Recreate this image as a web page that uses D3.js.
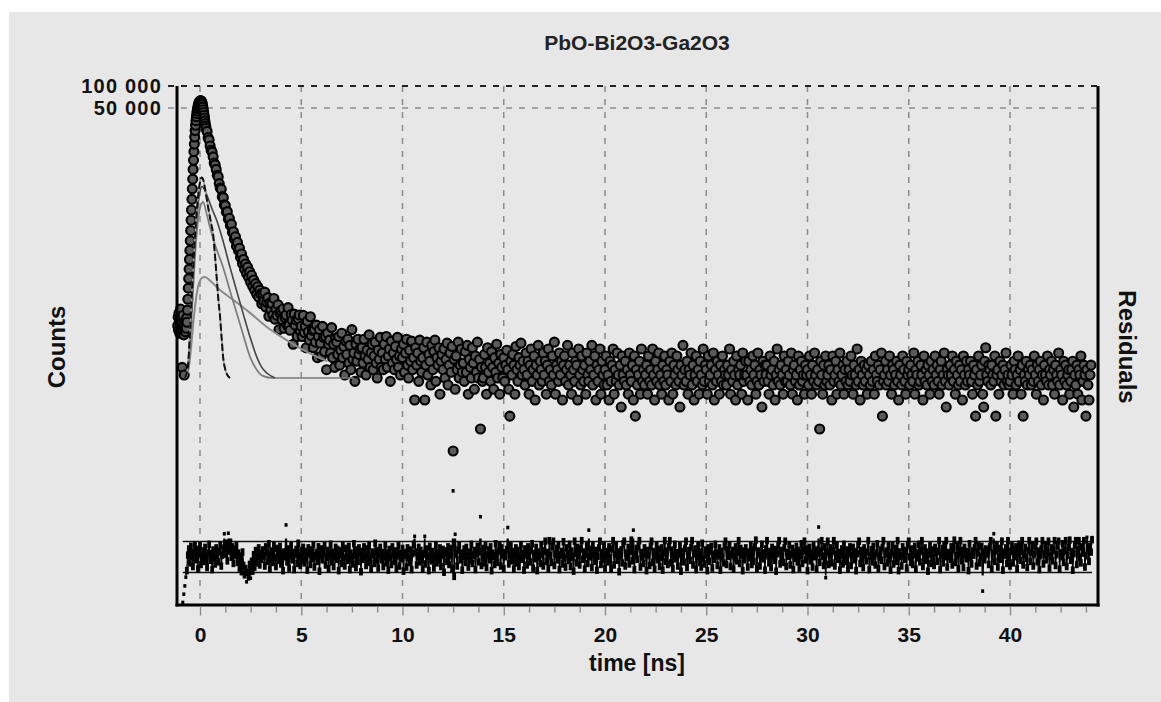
<!DOCTYPE html>
<html>
<head>
<meta charset="utf-8">
<script src="https://cdn.jsdelivr.net/npm/d3@7"></script>
<style>
  body { margin: 0; background: #fff; }
  svg text { font-family: "Liberation Sans", Arial, sans-serif; }
</style>
</head>
<body>
<svg width="1161" height="702"></svg>
<script>
// decay data, counts per channel
const riseStart = -1.10, riseStep = 0.02;
const riseCounts = [52,68,45,77,58,41,63,88,49,70,55,14,46,72,51,39,11,47,60,43,56,48,66,58,85,
  120,170,230,310,420,560,760,1050,1450,2000,2800,3900,5300,7200,9600,12600,16000,20000,24500,29000,
  33500,37800,41800,45500,49000,52200,55000,57500,59500,61000,
  62000,62600,62800,62400,61200,58800,55300,51300,47300,43400,39800,36400,33300,30500,28200];

const decayStart = 0.30, decayStep = 0.05;
const decayCounts = [26180,23900,19600,18200,15100,13200,12400,10700,8800,8300,7200,6000,5700,4600,
  4000,3850,3050,2950,2350,2300,1880,1900,1500,1540,1230,1280,990,1010,800,860,640,720,560,600,
  450,500,370,420,310,365,270,330,240,285,205,255,180,220,160,196,140,178,128,160,
  142,104,144,112,150,94,109,126,70,107,87,105,73,123,64,88,72,101,46,78,
  84,63,88,48,67,73,53,92,53,45,74,62,29,75,53,62,37,65,73,44,
  51,37,72,42,51,26,60,43,33,69,38,45,26,46,31,53,19,37,46,30,
  20,51,36,23,37,13,41,29,33,22,49,19,29,14,35,31,21,37,15,24,
  41,19,27,11,32,21,34,16,28,13,46,18,22,9,29,17,34,21,25,12];

const tailStart = 8.00, tailStep = 0.05;
const tailCounts = [
  26,16,34,20,11,24,18,39,14,22,29,13,20,31,16,10,24,18,36,14,
  22,13,29,18,37,14,20,25,9,32,16,22,13,27,18,36,14,20,11,25,
  19,29,12,22,34,15,10,24,17,32,13,19,5,26,15,22,9,33,17,12,
  19,26,5,15,31,11,21,17,8,28,13,23,33,9,19,15,26,6,17,21,
  13,25,10,18,30,8,15,22,12,27,1,18,7,20,13,31,10,15,25,12,
  16,9,23,12,28,6,18,14,10,26,16,7,20,12,31,10,18,2,14,9,
  10,21,14,6,26,12,16,9,23,14,7,19,12,29,10,16,6,21,14,10,
  19,9,15,24,13,7,3,17,11,21,15,6,27,13,9,19,15,30,11,17,
  13,8,22,11,17,6,15,25,9,13,20,5,15,11,28,8,17,13,9,22,
  11,17,6,15,25,9,13,8,20,11,31,6,15,13,9,22,11,17,5,15,
  20,9,13,28,8,15,11,6,22,13,9,17,15,5,25,11,8,20,13,9,
  15,6,22,11,9,17,13,28,8,11,20,5,15,9,13,25,6,17,11,8,
  13,20,8,11,5,17,9,15,25,6,13,9,22,11,8,15,4,20,11,9,
  17,8,13,6,22,11,9,15,5,20,3,13,8,11,17,6,25,9,13,8,
  11,15,6,20,9,13,8,25,11,5,17,9,13,22,8,11,6,15,9,20,
  8,13,11,5,17,9,22,6,15,11,8,20,13,9,4,15,11,28,8,13,
  9,17,6,13,11,22,8,15,5,11,20,9,13,6,17,11,8,25,9,15,
  13,6,20,9,11,15,8,22,5,13,9,17,11,6,15,9,20,8,13,11,
  8,15,11,25,6,13,9,17,11,5,20,8,13,11,15,6,22,9,11,17,
  11,5,17,9,13,8,20,11,15,6,9,22,8,13,11,4,17,9,15,11,
  15,9,6,20,11,13,8,17,5,11,25,9,13,8,15,11,6,20,9,13,
  9,17,11,8,22,6,13,15,9,11,5,20,8,13,17,9,11,6,15,11,
  13,8,20,11,6,15,9,22,11,8,13,9,2,17,11,6,15,8,20,9,
  11,15,8,13,5,20,9,11,17,6,13,9,22,8,11,15,6,13,9,17,
  8,13,9,20,11,6,15,11,8,25,9,13,5,17,11,8,15,9,13,6,
  15,11,8,17,9,13,6,20,11,9,15,8,13,22,3,9,11,17,8,13,
  9,20,11,6,15,13,8,11,17,9,5,15,11,8,20,13,9,6,17,11,
  13,8,15,11,9,22,6,13,11,17,8,9,15,11,5,20,9,13,8,15,
  11,6,17,9,13,8,20,11,15,9,6,13,17,8,11,22,9,4,13,11,
  8,15,11,20,9,13,6,17,11,8,15,9,13,5,20,11,8,17,9,13,
  11,17,9,6,15,11,3,13,8,20,9,11,15,6,4,17,26,11,9,15,
  13,8,15,11,9,20,3,11,13,6,17,9,11,15,8,13,22,9,11,8,
  9,15,11,6,17,13,8,11,20,9,13,6,15,3,11,9,17,8,13,11,
  15,8,13,9,20,11,6,15,9,13,17,8,11,5,15,11,9,20,8,13,
  11,17,8,13,6,15,11,9,22,8,13,11,5,17,9,15,8,11,13,6,
  9,13,17,4,11,8,15,6,13,11,20,5,9,15,11,3,13,8,5,11,
  15];

// weighted residuals, one per channel
const residStart = -0.85, residStep = 0.05;
const residuals = [
  -8.8,-7.2,-5.6,-3.9,-2.4,0.6,1.8,-0.9,2.3,0.4,-1.6,1.1,2.6,-0.3,1.7,-2.0,0.8,2.4,-1.2,0.3,
  1.4,-0.6,2.1,0.2,-1.8,1.0,2.7,-0.4,0.9,-2.2,1.6,0.1,-1.1,2.0,0.5,-0.7,1.3,2.5,-1.5,0.6,
  1.9,4.5,0.8,2.9,-0.5,4.6,1.4,3.1,0.2,2.2,-1.0,1.7,0.6,2.4,-0.8,1.0,-1.9,0.4,-2.6,1.2,
  -1.4,-3.2,-2.0,-4.8,-2.7,-3.6,-1.2,-4.1,-0.6,-2.5,0.7,-1.7,1.5,-0.9,0.3,2.0,-1.3,0.8,-0.2,1.6,
  0.5,-1.5,2.2,1.0,-0.6,2.8,-2.1,0.4,1.4,-0.8,2.5,0.1,-1.6,1.9,0.7,-0.4,2.3,-1.1,0.9,-2.4,
  1.2,0.3,6.2,-0.7,1.8,-1.9,0.6,2.4,-0.3,1.1,-2.2,0.8,1.7,-1.0,2.9,0.2,-1.4,1.5,-0.5,2.1,
  -0.9,1.3,0.4,-2.3,2.0,0.9,-1.2,1.6,-0.1,2.6,-1.7,0.5,1.1,-0.6,2.2,-2.5,0.7,1.8,-0.3,1.0,
  2.4,-1.3,0.2,1.5,-2.0,0.8,2.7,-0.7,1.2,-1.6,0.4,2.1,-0.2,1.7,-2.4,0.6,1.4,-1.0,2.5,0.1,
  -1.5,1.9,0.7,-0.4,2.3,-2.2,1.0,0.3,-1.1,2.8,0.5,-1.8,1.6,-0.6,2.0,0.9,-2.6,1.3,-0.2,2.2,
  0.4,-1.4,1.8,-0.8,2.5,0.0,-2.1,1.2,0.6,-1.0,2.9,-0.5,1.5,-1.9,0.8,2.1,-0.3,1.1,-1.6,0.3,
  2.6,-0.9,1.0,-2.3,1.7,0.2,-1.2,2.2,0.7,-0.6,1.4,-2.0,0.5,2.4,-1.5,0.9,-0.1,1.9,-2.5,1.1,
  0.6,-1.7,2.0,0.1,-0.8,1.6,-2.2,0.9,2.7,4.0,1.2,-1.3,0.3,2.1,-0.7,1.5,-0.4,-2.1,0.8,4.0,
  -1.1,1.8,0.4,-2.4,2.3,0.7,-0.5,1.3,-1.9,0.2,2.6,-0.9,1.1,-0.2,2.0,-1.6,0.6,1.7,-2.7,0.9,
  1.4,-0.6,2.2,-1.2,0.5,1.9,-2.0,12.8,-3.5,4.4,0.8,-1.5,1.6,2.5,-0.3,1.0,-2.3,0.4,1.8,-0.8,
  2.1,0.3,-1.7,1.2,-0.4,2.7,-1.0,0.6,1.5,-2.2,0.9,2.3,-0.7,1.3,7.8,-1.4,0.2,1.9,-0.9,2.4,
  -1.8,0.7,1.6,-0.3,2.2,-2.4,1.0,0.4,-1.2,2.8,0.1,-0.8,1.4,2.5,-1.5,2.0,0.6,-2.0,1.1,0.3,
  1.7,5.7,-1.1,0.8,2.4,-0.5,1.3,-2.1,0.5,2.0,-0.9,1.5,-1.6,0.2,2.6,-0.2,1.0,-2.3,1.8,0.6,
  -1.3,2.2,0.4,-0.7,1.6,2.8,-1.9,0.9,-0.1,2.1,-2.4,1.2,0.3,-1.0,2.5,0.7,-1.5,1.4,3.3,-0.6,
  1.1,-2.0,3.4,0.5,-0.8,2.3,3.3,-1.4,0.8,1.9,-0.3,2.6,-2.2,0.6,1.3,-1.1,3.2,0.1,-1.7,2.0,
  0.9,-0.4,2.7,-1.6,1.4,0.2,-2.5,3.3,1.0,-0.9,2.1,0.5,-1.3,1.8,3.4,-0.2,1.2,-2.1,0.7,2.4,
  -1.0,5.2,0.3,1.7,-1.8,2.6,0.8,-0.6,1.5,-2.3,0.4,2.0,3.3,-1.2,1.1,-0.3,2.4,-1.9,0.6,1.3,
  -0.7,2.2,0.1,-2.0,1.8,3.4,-1.3,0.9,2.5,-0.4,1.2,-2.6,0.5,1.6,-0.9,2.8,3.3,-1.5,1.0,0.2,
  2.1,-1.1,1.4,3.5,-0.5,5.2,-2.2,0.7,1.9,-0.2,2.4,3.4,-1.7,1.1,0.4,-1.0,2.0,0.8,-2.4,1.5,
  0.6,-1.4,2.3,3.3,-0.8,1.3,-2.1,0.9,2.6,-0.3,1.7,-1.6,0.2,2.0,-2.3,1.0,3.4,-0.6,1.4,-1.2,
  2.2,3.4,-0.9,1.6,-2.0,0.5,2.7,-0.1,1.1,-1.5,0.8,2.4,-2.5,1.3,0.3,-0.7,1.9,3.3,-1.8,0.6,
  1.5,-0.4,2.1,3.4,-1.3,0.9,1.8,-2.2,0.4,2.5,-0.8,1.2,-1.7,2.9,0.0,-1.1,1.6,0.7,-2.4,2.0,
  -0.6,1.4,2.3,-1.9,0.8,-0.2,2.7,1.0,-1.4,0.5,2.0,-2.3,1.3,0.2,-0.9,2.4,3.3,-1.2,1.7,0.4,
  2.6,-1.6,0.7,1.5,-2.1,0.3,2.2,-0.5,1.1,3.4,-1.0,1.9,0.6,-2.4,1.4,-0.3,2.0,0.9,-1.7,1.2,
  0.1,2.5,-1.2,1.6,-0.6,2.2,3.5,-2.0,0.8,1.4,-1.5,0.4,2.7,-0.1,1.0,-2.3,1.8,3.4,0.5,-0.9,
  1.3,-1.8,2.1,0.6,-0.4,1.7,-2.5,0.9,2.4,3.4,-1.1,1.5,0.2,-0.8,2.0,3.3,-1.6,1.1,0.4,2.6,
  -1.3,0.7,1.9,-2.2,1.2,0.0,2.3,-0.7,1.5,-1.9,0.5,2.8,-1.0,1.4,3.3,-0.3,1.8,-2.4,0.8,2.1,
  -0.5,1.0,-1.7,2.4,0.3,1.6,-2.1,0.9,5.8,-0.8,1.3,3.4,0.4,-1.4,2.2,-4.0,1.1,3.3,-1.2,0.6,
  2.0,-0.9,1.4,3.4,-1.5,0.8,2.5,-0.2,1.1,-2.3,0.5,1.8,-1.1,2.7,0.1,-0.6,1.6,-2.0,0.9,2.2,
  -1.4,0.6,2.1,-0.3,1.3,-2.4,0.9,2.6,3.3,-1.0,1.5,0.2,-1.8,2.0,0.7,-0.5,1.2,3.4,-2.2,0.4,
  1.7,-0.7,2.3,0.5,-1.3,1.0,2.8,-2.0,0.3,1.6,-0.4,2.1,3.4,-1.6,0.8,1.4,-0.9,2.4,0.0,-2.3,
  1.1,2.5,-1.1,0.6,1.9,-0.6,3.4,-2.4,1.2,0.4,-1.5,2.2,0.9,-0.2,1.5,-1.9,2.6,3.3,0.3,-0.8,
  1.8,-1.2,0.7,2.3,-2.1,1.0,0.1,2.7,-0.7,1.4,3.4,-1.6,0.5,2.0,-0.4,1.2,-2.5,0.8,2.4,-1.0,
  1.6,0.2,-1.4,2.1,0.9,-0.6,1.3,3.4,-2.2,0.6,1.9,-0.9,2.5,0.3,3.4,-1.7,1.1,0.4,-0.2,2.2,
  -1.3,1.7,3.5,-0.8,0.5,2.4,-2.0,1.0,3.4,-0.5,1.5,-1.8,2.1,0.7,-0.1,1.3,-2.4,2.8,0.2,-1.1,
  1.4,0.6,2.0,3.4,-1.5,1.1,2.4,-0.9,0.3,2.3,-6.6,1.2,-0.3,1.8,0.8,1.6,-1.2,2.2,3.4,-2.1,
  0.9,4.5,-0.6,1.5,2.6,-1.7,0.4,1.9,-0.2,3.3,-2.3,1.2,0.6,2.0,-1.0,3.4,0.2,-1.5,1.4,2.4,
  -0.9,1.6,0.3,2.2,-2.0,1.0,2.7,-0.4,1.3,3.4,-1.3,0.7,2.1,0.0,-1.8,1.5,3.4,-0.6,1.1,2.5,
  -1.5,0.8,2.3,3.3,-0.7,1.4,-2.2,0.5,1.9,3.4,-1.1,0.9,2.6,-0.3,1.2,3.3,-1.9,0.4,2.0,-0.5,
  1.6,3.4,-1.4,0.7,2.4,3.3,-2.1,1.1,0.3,2.8,-0.8,1.5,3.4,-1.6,0.6,2.1,3.5,-0.4,1.3,-2.3,
  0.9,2.5,3.4,-1.2,1.6,3.4,0.2,-0.9,2.2,1.0,3.4,-1.7,0.5,3.8,1.8,-0.6,2.3,1.2,3.6];
const residLimit = 3;

// fitted decay components [time ns, counts]
const compNarrow = [[-0.75,10],[-0.6,14],[-0.5,40],[-0.4,150],[-0.3,500],[-0.2,1400],[-0.1,3000],
  [0,4800],[0.08,5600],[0.15,5300],[0.25,3900],[0.4,2200],[0.55,1300],[0.64,970],[0.72,560],
  [0.82,245],[0.9,125],[0.99,69],[1.07,35],[1.14,19.6],[1.25,13],[1.35,11],[1.48,10]];
const compFast = [[-0.75,10],[-0.6,14],[-0.5,35],[-0.4,120],[-0.3,400],[-0.2,1100],[-0.1,2300],
  [0,3600],[0.1,4200],[0.2,3900],[0.4,2900],[0.6,2050],[0.82,1460],[1.1,820],[1.48,330],[1.8,160],
  [2.12,78],[2.45,38],[2.8,19.5],[3.05,14],[3.3,11.7],[3.7,10]];
const compMid = [[-0.75,10],[-0.6,13],[-0.5,25],[-0.4,80],[-0.3,260],[-0.2,700],[-0.1,1400],
  [0,2150],[0.1,2520],[0.16,2580],[0.3,1900],[0.49,1170],[0.8,600],[1.14,330],[1.5,150],[1.81,78],
  [2.1,42],[2.47,19.5],[2.8,13],[3.1,10.7],[3.6,10],[7.6,10]];
const compSlow = [[-0.75,10],[-0.6,12],[-0.5,18],[-0.4,35],[-0.3,70],[-0.2,120],[-0.1,175],
  [0,215],[0.1,235],[0.25,242],[0.5,215],[0.99,160],[1.65,117],[2.47,78],[3.3,50],[4.28,33],
  [4.94,25.6],[5.76,19.6],[6.3,17]];

const xTicks = [0, 5, 10, 15, 20, 25, 30, 35, 40];
const yTicks = [100000, 50000];
const yTickLabels = ["100 000", "50 000"];

const frame = {left: 177, right: 1098, top: 86, bottom: 605};

const x = d3.scaleLinear().domain([0, 40]).range([200, 1010]);
const y = d3.scaleLog().domain([1, 100000]).range([451, 86]);
const yRes = d3.scaleLinear().domain([-residLimit, residLimit]).range([572.5, 541.5]);

const toPoints = (arr, start, step) => arr.map((c, i) => ({t: start + i * step, v: c}));
const counts = [].concat(
  toPoints(riseCounts, riseStart, riseStep),
  toPoints(decayCounts, decayStart, decayStep),
  toPoints(tailCounts, tailStart, tailStep));
const resid = toPoints(residuals, residStart, residStep);

const svg = d3.select("svg");

svg.append("defs").append("clipPath").attr("id", "band")
  .append("rect")
  .attr("x", frame.left).attr("width", frame.right - frame.left)
  .attr("y", yRes(residLimit) - 3).attr("height", yRes(-residLimit) - yRes(residLimit) + 6);

svg.append("rect")
  .attr("x", 9).attr("y", 12)
  .attr("width", 1152).attr("height", 690)
  .attr("fill", "#e7e7e7");

// grid
const grid = svg.append("g");
grid.selectAll("line.v")
  .data(xTicks)
  .enter().append("line")
  .attr("x1", d => x(d)).attr("x2", d => x(d))
  .attr("y1", frame.top).attr("y2", frame.bottom)
  .attr("stroke", "#8c8c8c").attr("stroke-width", 1.5)
  .attr("stroke-dasharray", "6,7");

grid.selectAll("line.h")
  .data(yTicks)
  .enter().append("line")
  .attr("x1", 168).attr("x2", frame.right)
  .attr("y1", d => y(d)).attr("y2", d => y(d))
  .attr("stroke", (d, i) => i === 0 ? "#222" : "#8c8c8c")
  .attr("stroke-width", (d, i) => i === 0 ? 2 : 1.5)
  .attr("stroke-dasharray", "6,7");

// y labels
const yAxis = d3.axisLeft(y)
  .tickValues(yTicks)
  .tickSize(0)
  .tickPadding(15)
  .tickFormat((d, i) => yTickLabels[i]);
const gy = svg.append("g")
  .attr("transform", `translate(${frame.left},0)`)
  .call(yAxis);
gy.select(".domain").remove();
gy.selectAll("text")
  .attr("font-size", 20).attr("font-weight", "bold").attr("fill", "#111")
  .attr("letter-spacing", 1.2)
  .attr("font-family", "Liberation Sans, Arial, sans-serif");

// data points
svg.append("g")
  .selectAll("circle")
  .data(counts)
  .enter().append("circle")
  .attr("cx", d => x(d.t))
  .attr("cy", d => y(d.v))
  .attr("r", 4.5)
  .attr("fill", "#5a5a5a")
  .attr("stroke", "#000")
  .attr("stroke-width", 2.1);

// components
const line = d3.line()
  .x(d => x(d[0]))
  .y(d => y(d[1]))
  .curve(d3.curveMonotoneX);

const comps = svg.append("g").attr("fill", "none");
comps.append("path").attr("d", line(compSlow)).attr("stroke", "#8a8a8a").attr("stroke-width", 2);
comps.append("path").attr("d", line(compMid)).attr("stroke", "#7a7a7a").attr("stroke-width", 1.7);
comps.append("path").attr("d", line(compFast)).attr("stroke", "#444").attr("stroke-width", 1.6);
comps.append("path").attr("d", line(compNarrow)).attr("stroke", "#999").attr("stroke-width", 1.6);
comps.append("path").attr("d", line(compNarrow)).attr("stroke", "#111").attr("stroke-width", 2)
  .attr("stroke-dasharray", "7,3");

// residual band
svg.append("g")
  .selectAll("line")
  .data([residLimit, -residLimit])
  .enter().append("line")
  .attr("x1", x(residStart)).attr("x2", x(residStart + (residuals.length - 1) * residStep))
  .attr("y1", d => yRes(d)).attr("y2", d => yRes(d))
  .attr("stroke", "#111").attr("stroke-width", 1.6);

// residual trace inside the band, then the points
svg.append("path")
  .attr("clip-path", "url(#band)")
  .attr("d", d3.line().x(d => x(d.t)).y(d => yRes(d.v))(resid))
  .attr("fill", "none")
  .attr("stroke", "#000")
  .attr("stroke-width", 1.4);

const inBand = d => Math.abs(d.v) <= 3.6;
svg.append("g")
  .selectAll("rect")
  .data(resid)
  .enter().append("rect")
  .attr("x", d => x(d.t) - (inBand(d) ? 1.9 : 1.5))
  .attr("y", d => yRes(d.v) - (inBand(d) ? 2.5 : 1.8))
  .attr("width", d => inBand(d) ? 3.8 : 3)
  .attr("height", d => inBand(d) ? 7.5 : 3.6)
  .attr("fill", "#000");

// frame
const fr = svg.append("g").attr("stroke", "#000").attr("stroke-width", 3);
fr.append("line").attr("x1", frame.left).attr("x2", frame.left).attr("y1", frame.top).attr("y2", frame.bottom + 1.5);
fr.append("line").attr("x1", frame.right).attr("x2", frame.right).attr("y1", frame.top).attr("y2", frame.bottom + 1.5);
fr.append("line").attr("x1", frame.left - 1.5).attr("x2", frame.right + 1.5).attr("y1", frame.bottom).attr("y2", frame.bottom);

// x axis
const minorTicks = d3.range(1.25, 44.3, 1.25).filter(v => v % 5 !== 0);
const gMinor = svg.append("g")
  .attr("transform", `translate(0,${frame.bottom + 1.5})`)
  .call(d3.axisBottom(x).tickValues(minorTicks).tickSize(6).tickSizeOuter(0).tickFormat(""));
gMinor.select(".domain").remove();
gMinor.selectAll("line").attr("stroke", "#888").attr("stroke-width", 1.3);

const gx = svg.append("g")
  .attr("transform", `translate(0,${frame.bottom + 1.5})`)
  .call(d3.axisBottom(x).tickValues(xTicks).tickSize(9).tickSizeOuter(0).tickPadding(12));
gx.select(".domain").remove();
gx.selectAll("line").attr("stroke", "#888").attr("stroke-width", 1.3);
gx.selectAll("text")
  .attr("font-size", 21).attr("font-weight", "bold").attr("fill", "#111")
  .attr("font-family", "Liberation Sans, Arial, sans-serif");

// titles
svg.append("text")
  .attr("x", 637).attr("y", 50)
  .attr("text-anchor", "middle")
  .attr("font-size", 21).attr("font-weight", "bold").attr("fill", "#222")
  .text("PbO-Bi2O3-Ga2O3");

svg.append("text")
  .attr("x", 637).attr("y", 671)
  .attr("text-anchor", "middle")
  .attr("font-size", 23).attr("font-weight", "bold").attr("fill", "#111")
  .text("time [ns]");

svg.append("text")
  .attr("transform", "translate(65,347) rotate(-90)")
  .attr("text-anchor", "middle")
  .attr("font-size", 24).attr("font-weight", "bold").attr("fill", "#111")
  .text("Counts");

svg.append("text")
  .attr("transform", "translate(1119,347) rotate(90)")
  .attr("text-anchor", "middle")
  .attr("font-size", 24).attr("font-weight", "bold").attr("fill", "#111")
  .text("Residuals");
</script>
</body>
</html>
